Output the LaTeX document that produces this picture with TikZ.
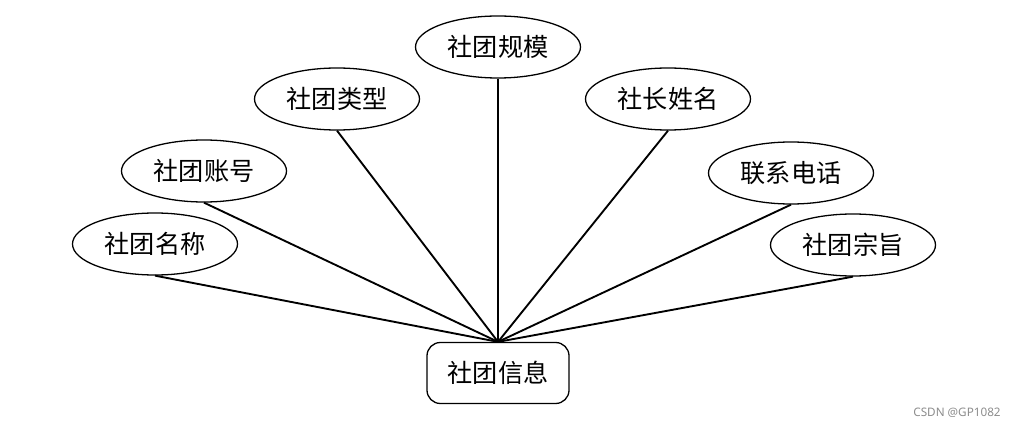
\documentclass[tikz,border=0pt]{standalone}
\usepackage{fontspec}
\usepackage{tikz}
\usetikzlibrary{shapes.geometric}
\newfontfamily\cjk{Noto Sans CJK SC}
\newfontfamily\wmfont{Noto Sans}

\tikzset{
    attr/.style={draw, ellipse, line width=1.1pt, inner sep=0pt,
        minimum width=4.95cm, minimum height=1.86cm,
        font=\cjk\fontsize{21.5}{24}\selectfont},
    entity/.style={draw, rectangle, rounded corners=0.4cm, line width=1.1pt,
        minimum width=4.26cm, minimum height=1.83cm,
        font=\cjk\fontsize{21.5}{24}\selectfont},
    link/.style={line width=1.6pt}
}

\begin{document}
\begin{tikzpicture}[x=0.03cm, y=-0.03cm]
        \useasboundingbox (0,0) rectangle (1017,429);
        % Entity
        \node[entity] (info) at (498,373) {社团信息};

        % Attributes
        \node[attr] (name) at (155,244) {社团名称};
        \node[attr] (account) at (204,171) {社团账号};
        \node[attr] (type) at (337,99) {社团类型};
        \node[attr] (scale) at (498,47) {社团规模};
        \node[attr] (leader) at (668,99) {社长姓名};
        \node[attr] (phone) at (791,173) {联系电话};
        \node[attr] (aim) at (853,245) {社团宗旨};

        % Links
        \foreach \a in {name,account,type,scale,leader,phone,aim}
            \draw[link] (\a.south) -- (info.north);

        % Watermark
        \node[text=black!45, font=\wmfont\fontsize{10}{12}\selectfont] (mark) at (957,413) {CSDN @GP1082};
\end{tikzpicture}
\end{document}
